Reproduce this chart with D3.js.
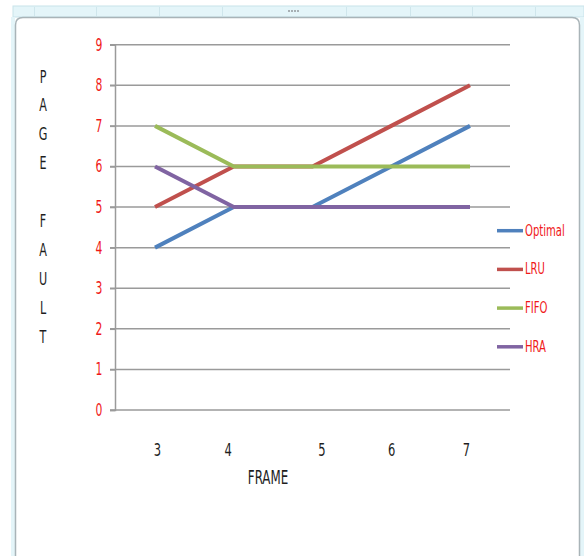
<!DOCTYPE html>
<html>
<head>
<meta charset="utf-8">
<script src="https://cdn.jsdelivr.net/npm/d3@7"></script>
<style>
  html, body { margin: 0; padding: 0; background: #ffffff; }
  svg { display: block; }
  text { font-family: "Liberation Sans Narrow", "DejaVu Sans Condensed", "Liberation Sans", sans-serif; }
</style>
</head>
<body>
<svg id="chart" width="584" height="556"></svg>
<script>
// Page faults per number of frames for each replacement algorithm
const frames = ["3", "4", "5", "6", "7"];
const optimal = [4, 5, 5, 6, 7];
const lru     = [5, 6, 6, 7, 8];
const fifo    = [7, 6, 6, 6, 6];
const hra     = [6, 5, 5, 5, 5];
const seriesNames = ["Optimal", "LRU", "FIFO", "HRA"];
const yTicks = [0, 1, 2, 3, 4, 5, 6, 7, 8, 9];
const yTitle = ["P", "A", "G", "E", "", "F", "A", "U", "L", "T"];
const xTitle = "FRAME";

const colors = ["#4f81bd", "#c0504d", "#9bbb59", "#8064a2"];
const seriesValues = [optimal, lru, fifo, hra];

// tall, narrow lettering
const SX = 0.8, SY = 1.15;
const squeeze = (px, py) => `translate(${px},${py}) scale(${SX},${SY})`;

const svg = d3.select("#chart");

// ---- window frame around the chart ----
svg.append("rect").attr("x", 0).attr("y", 0).attr("width", 584).attr("height", 556).attr("fill", "#ffffff");
// top ruler strip
svg.append("rect").attr("x", 13).attr("y", 6).attr("width", 571).attr("height", 11)
  .attr("fill", "#e4f5f9").attr("stroke", "#c8e3ea").attr("stroke-width", 1);
[34, 96, 159, 222, 346, 410, 472, 535].forEach(px => {
  svg.append("line").attr("x1", px + 0.5).attr("x2", px + 0.5).attr("y1", 7).attr("y2", 16)
    .attr("stroke", "#cfe6ec").attr("stroke-width", 1);
});
[288, 291, 294, 297].forEach(px => {
  svg.append("rect").attr("x", px).attr("y", 10).attr("width", 2).attr("height", 2).attr("fill", "#a7b0b4");
});
// side strips
svg.append("rect").attr("x", 11).attr("y", 17).attr("width", 4).attr("height", 539).attr("fill", "#e4f5f9");
svg.append("rect").attr("x", 580).attr("y", 17).attr("width", 4).attr("height", 539).attr("fill", "#e4f5f9");
// chart area with rounded top corners
svg.append("path")
  .attr("d", "M15.5,556 L15.5,25 Q15.5,17.5 23,17.5 L572,17.5 Q579.5,17.5 579.5,25 L579.5,556")
  .attr("fill", "#ffffff").attr("stroke", "#a9b4b8").attr("stroke-width", 1.5);

// ---- scales ----
const x = d3.scalePoint().domain(frames).range([155, 470]);
const y = d3.scaleLinear().domain([0, 9]).range([410, 44.7]);

// ---- gridlines ----
svg.append("g")
  .selectAll("line").data(yTicks.filter(d => d > 0)).join("line")
  .attr("x1", 110).attr("x2", 510)
  .attr("y1", d => y(d)).attr("y2", d => y(d))
  .attr("stroke", "#9a9a9a").attr("stroke-width", 1.5);

// ---- y axis ----
const yAxis = svg.append("g").attr("transform", "translate(115,0)")
  .call(d3.axisLeft(y).tickValues(yTicks).tickSize(5).tickPadding(10).tickFormat(d3.format("d")));
yAxis.select(".domain").attr("stroke", "#9a9a9a").attr("stroke-width", 1.5);
yAxis.selectAll(".tick line").attr("stroke", "#9a9a9a").attr("stroke-width", 1.5);
yAxis.selectAll(".tick text")
  .attr("x", null).attr("dy", null)
  .attr("text-anchor", "middle")
  .attr("transform", squeeze(-16, 5.5))
  .attr("fill", "#f01818").attr("font-size", 15);

// x axis baseline (no tick marks)
svg.append("line").attr("x1", 110).attr("x2", 510).attr("y1", y(0)).attr("y2", y(0))
  .attr("stroke", "#9a9a9a").attr("stroke-width", 1.5);

// ---- x axis labels ----
const xLabelShift = [2, -6, 9, 0, -4];
const xAxis = svg.append("g").attr("transform", `translate(0,${y(0)})`)
  .call(d3.axisBottom(x).tickSize(0));
xAxis.select(".domain").remove();
xAxis.selectAll(".tick text")
  .attr("y", null).attr("dy", null)
  .attr("transform", (d, i) => squeeze(xLabelShift[i], 46))
  .attr("fill", "#1e1e1e").attr("font-size", 16);

// ---- axis titles ----
svg.append("text").attr("transform", squeeze(268, 484)).attr("text-anchor", "middle")
  .attr("font-size", 16.5).attr("fill", "#1e1e1e").text(xTitle);
svg.append("g").selectAll("text").data(yTitle).join("text")
  .attr("transform", (d, i) => squeeze(43, 82.5 + i * 28.9))
  .attr("text-anchor", "middle").attr("font-size", 15.5).attr("fill", "#1e1e1e")
  .text(d => d);

// ---- series lines ----
const line = d3.line().x((d, i) => x(frames[i])).y(d => y(d));
svg.append("g").selectAll("path").data(seriesValues).join("path")
  .attr("d", d => line(d))
  .attr("fill", "none")
  .attr("stroke", (d, i) => colors[i])
  .attr("stroke-width", 4)
  .attr("stroke-linejoin", "round");

// ---- legend ----
const legend = svg.append("g").selectAll("g").data(seriesNames).join("g")
  .attr("transform", (d, i) => `translate(497,${230.7 + i * 38.7})`);
legend.append("line").attr("x1", 0).attr("x2", 26).attr("y1", 0).attr("y2", 0)
  .attr("stroke", (d, i) => colors[i]).attr("stroke-width", 3.5);
legend.append("text").attr("transform", squeeze(28, 5)).attr("font-size", 14)
  .attr("fill", "#f01818").text(d => d);
</script>
</body>
</html>
